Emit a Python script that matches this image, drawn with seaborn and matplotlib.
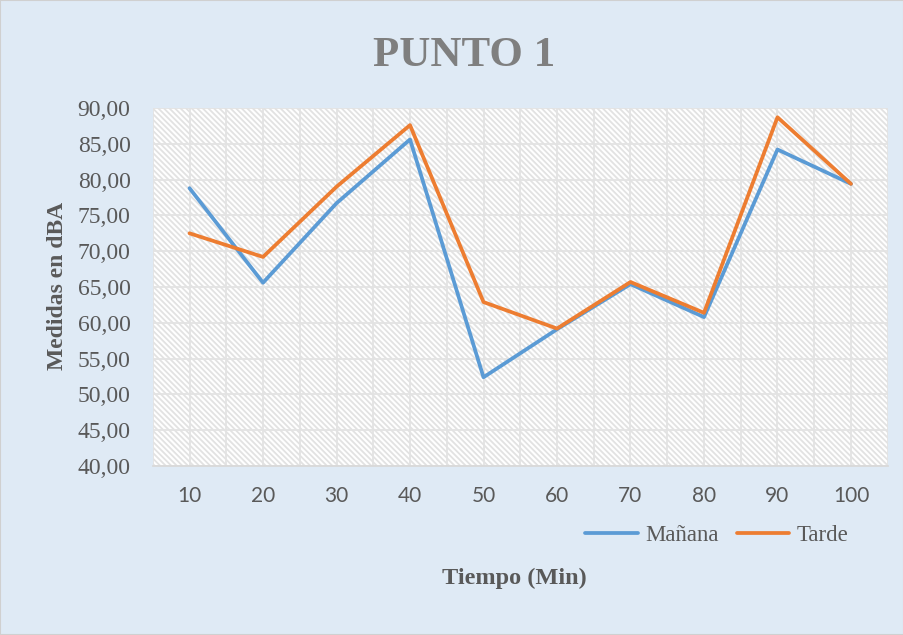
import numpy as np
import pandas as pd
import seaborn as sns
import matplotlib.pyplot as plt
from matplotlib.patches import Rectangle
from matplotlib.ticker import FuncFormatter, MultipleLocator

# datos
tiempo = [10, 20, 30, 40, 50, 60, 70, 80, 90, 100]
manana = [78.8, 65.6, 76.7, 85.6, 52.4, 59.1, 65.4, 60.8, 84.2, 79.4]
tarde = [72.5, 69.2, 79.0, 87.6, 62.9, 59.2, 65.7, 61.4, 88.7, 79.4]

df = pd.DataFrame({
    'Tiempo': tiempo * 2,
    'Valor': manana + tarde,
    'Serie': ['Mañana'] * len(tiempo) + ['Tarde'] * len(tiempo),
})

sns.set_theme(style='white')
plt.rcParams['hatch.color'] = '#e2e2e2'
plt.rcParams['hatch.linewidth'] = 1.3
serif = ['Liberation Serif', 'DejaVu Serif']
sans = ['Lato', 'DejaVu Sans']
gris = '#595959'

fig = plt.figure(figsize=(9.04, 6.35), dpi=100, facecolor='#dfeaf5')
ax = fig.add_axes([0.169, 0.266, 0.813, 0.564])
ax.set_facecolor('white')

# fondo rayado
ax.add_patch(Rectangle((0, 0), 1, 1, transform=ax.transAxes, facecolor='white',
                       edgecolor='#e2e2e2', hatch='\\\\\\\\\\\\', linewidth=0, zorder=0))

# posiciones categoricas
df['pos'] = df['Tiempo'].map({t: i for i, t in enumerate(tiempo)})
sns.lineplot(data=df, x='pos', y='Valor', hue='Serie',
             palette={'Mañana': '#5b9bd5', 'Tarde': '#ed7d31'},
             linewidth=2.7, ax=ax, zorder=3)

ax.set_xlim(-0.5, len(tiempo) - 0.5)
ax.set_ylim(40, 90)
ax.set_xticks(range(len(tiempo)))
ax.set_xticklabels([str(t) for t in tiempo])
ax.yaxis.set_major_locator(MultipleLocator(5))
ax.yaxis.set_major_formatter(FuncFormatter(lambda v, p: f'{v:.2f}'.replace('.', ',')))
ax.xaxis.set_minor_locator(MultipleLocator(0.5))
ax.grid(True, which='both', axis='x', color='#e3e3e3', linewidth=1.3, zorder=1)
ax.grid(True, which='major', axis='y', color='#e3e3e3', linewidth=1.3, zorder=1)
ax.set_axisbelow(True)
for s in ['top', 'right', 'left']:
    ax.spines[s].set_visible(False)
ax.spines['bottom'].set_color('#d9d9d9')
ax.spines['bottom'].set_linewidth(1.3)
ax.tick_params(axis='both', which='both', length=0, labelcolor=gris)
ax.tick_params(axis='x', labelsize=15, pad=14)
ax.tick_params(axis='y', labelsize=17, pad=16)
for lab in ax.get_xticklabels():
    lab.set_family(sans)
for lab in ax.get_yticklabels():
    lab.set_family(serif)

ax.set_xlabel('Tiempo (Min)', family=serif, fontsize=17.5, fontweight='bold', color=gris)
ax.xaxis.label.set_va('center')
ax.xaxis.set_label_coords(0.4925, -0.313)
ax.set_ylabel('Medidas en dBA', family=serif, fontsize=17, fontweight='bold', color=gris)
ax.yaxis.label.set(va='center', ha='center', rotation_mode='default')
ax.yaxis.set_label_coords(-0.129, 0.503)
fig.text(0.513, 0.912, 'PUNTO 1', family=serif, fontsize=31, fontweight='bold',
         color='#7f7f7f', ha='center', va='center')

leg = ax.legend(loc='center right', bbox_to_anchor=(0.946, -0.194), ncol=2,
                frameon=False, handlelength=2.3, handletextpad=0.3, columnspacing=0.8,
                borderaxespad=0, borderpad=0, prop={'family': serif, 'size': 16.5})
for t in leg.get_texts():
    t.set_color(gris)
    t.set_family(serif)

fig.patches.append(Rectangle((0, 0), 1, 1, transform=fig.transFigure, fill=False,
                             edgecolor='#d0d0d0', linewidth=1.5))
fig.savefig('out.png', dpi=100, facecolor=fig.get_facecolor())
